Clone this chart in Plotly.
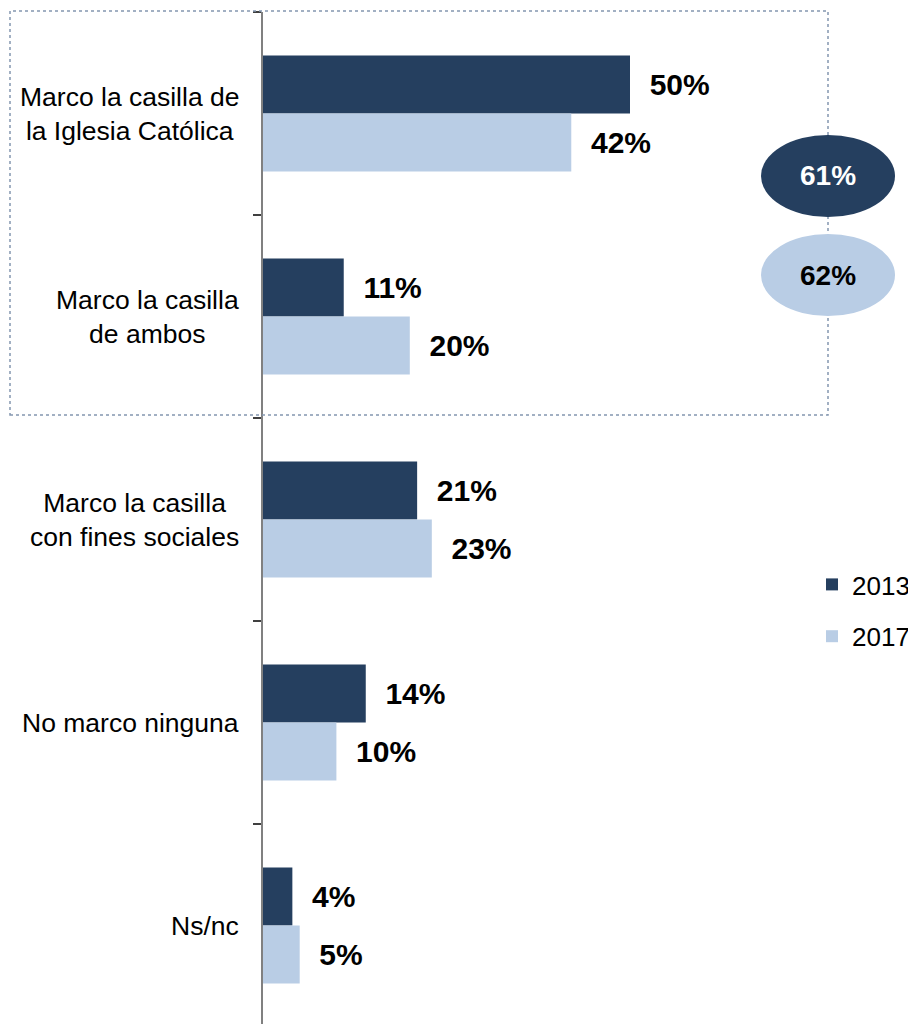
import plotly.graph_objects as go

categories = [
    "Marco la casilla de<br>la Iglesia Católica",
    "Marco la casilla<br>de ambos",
    "Marco la casilla<br>con fines sociales",
    "No marco ninguna",
    "Ns/nc",
]
values_2013 = [50, 11, 21, 14, 4]
values_2017 = [42, 20, 23, 10, 5]
series_names = ["2013", "2017"]
totals = [61, 62]  # highlighted totals (Iglesia + ambos) for 2013 and 2017

DARK = "#253F5F"
LIGHT = "#B9CDE5"
FONT = "Arial, 'Liberation Sans', sans-serif"

OFF = 8  # page body margin
W, H = 916 - OFF, 1024 - OFF
L, T = 263 - OFF, 12 - OFF
PW, PH = W - L, H - T
PX_PER_UNIT = 7.34


def px_x(px):
    # reference page pixel -> paper fraction
    return (px - OFF - L) / PW


def px_y(py):
    return (H - (py - OFF)) / PH


fig = go.Figure()
for name, vals, col in [(series_names[0], values_2013, DARK), (series_names[1], values_2017, LIGHT)]:
    fig.add_trace(go.Bar(
        y=categories, x=vals, orientation="h", name=name,
        marker=dict(color=col, line=dict(width=0)),
        text=vals, texttemplate="\u00a0\u00a0%{x}%", textposition="outside",
        outsidetextfont=dict(family=FONT, size=30, color="black", weight="bold"),
        constraintext="none", cliponaxis=False,
        legendgroup=name, hoverinfo="skip",
    ))

annotations = []
for cat in categories:
    annotations.append(dict(
        xref="paper", yref="y", x=0, y=cat, xshift=-22,
        xanchor="right", yanchor="middle", align="center",
        text=cat, showarrow=False,
        font=dict(family=FONT, size=26.5, color="black"),
    ))

shapes = [
    dict(type="rect", xref="paper", yref="paper",
         x0=px_x(10), x1=px_x(828), y0=px_y(415), y1=px_y(11),
         line=dict(color="#8497B0", width=1.5, dash="dot")),
]
ell = [(135, 217, DARK, "white"), (234, 316, LIGHT, "black")]
for (top, bot, fc, tc), tot in zip(ell, totals):
    shapes.append(dict(type="circle", xref="paper", yref="paper",
                       x0=px_x(761), x1=px_x(895), y0=px_y(bot), y1=px_y(top),
                       fillcolor=fc, line=dict(width=0)))
    annotations.append(dict(
        xref="paper", yref="paper", x=px_x(828), y=px_y((top + bot) / 2),
        xanchor="center", yanchor="middle", text=f"{tot}%", showarrow=False,
        font=dict(family=FONT, size=28, color=tc, weight="bold"),
    ))

fig.update_layout(
    width=W, height=H,
    margin=dict(l=L, r=0, t=T, b=0, pad=0),
    paper_bgcolor="white", plot_bgcolor="white",
    barmode="group", bargap=0.4286, bargroupgap=0,
    font=dict(family=FONT, color="black"),
    xaxis=dict(visible=False, range=[0, PW / PX_PER_UNIT], fixedrange=True),
    yaxis=dict(
        type="category", categoryorder="array", categoryarray=categories,
        range=[-0.5 + PH / 203.0, -0.5], autorange=False,
        tickson="boundaries", ticks="outside", ticklen=8,
        tickcolor="#404040", tickwidth=1.5,
        showticklabels=False, showgrid=False, zeroline=False,
        showline=True, linecolor="#808080", linewidth=2, fixedrange=True,
    ),
    legend=dict(
        x=px_x(812), y=px_y(561), xanchor="left", yanchor="top",
        xref="paper", yref="paper",
        font=dict(family=FONT, size=26, color="black"),
        bgcolor="rgba(0,0,0,0)", tracegroupgap=15, itemwidth=30,
        traceorder="grouped",
    ),
    showlegend=True,
    annotations=annotations,
    shapes=shapes,
)

fig.write_html("out.html")
